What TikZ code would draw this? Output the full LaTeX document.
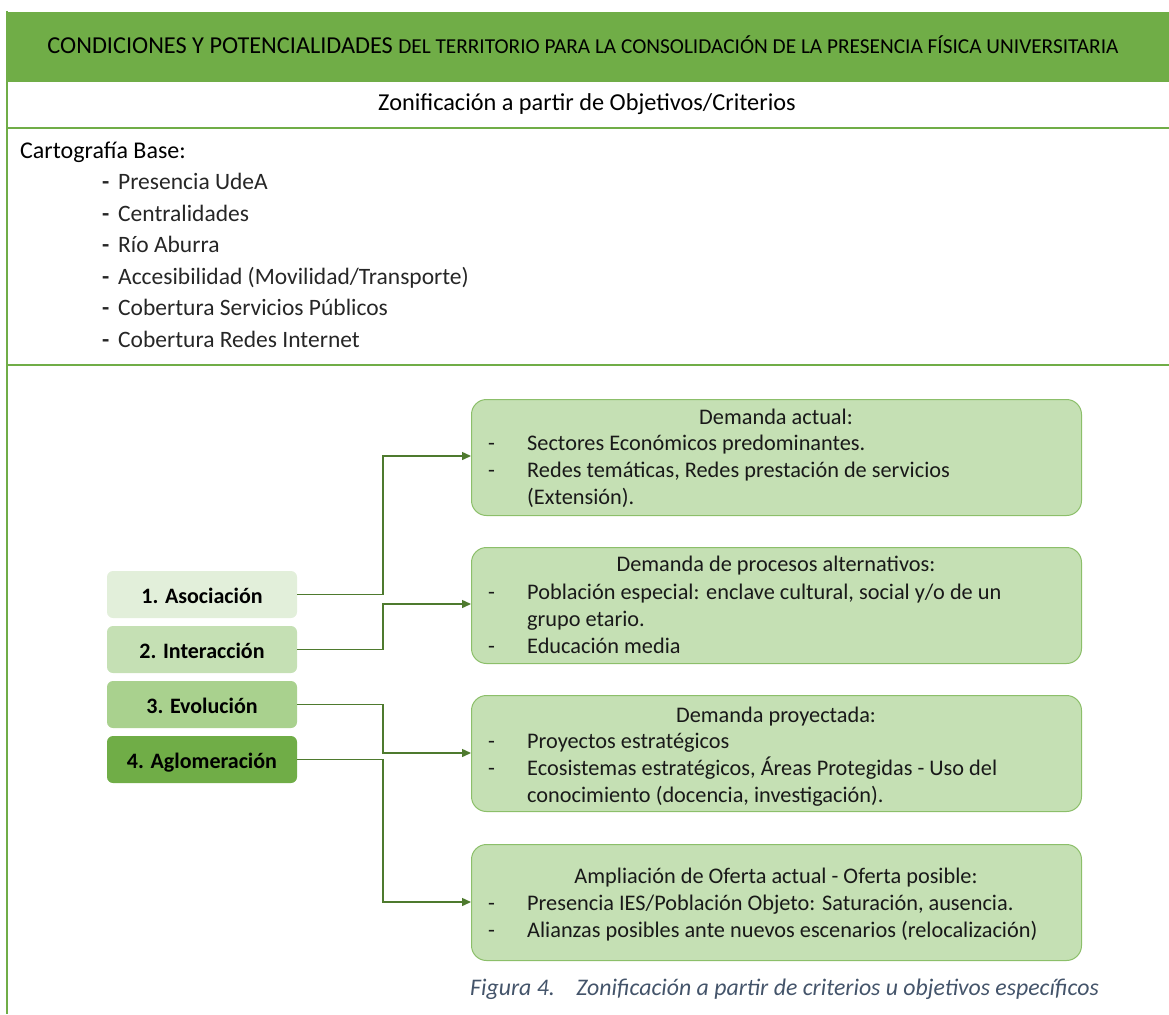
\documentclass[tikz,border=0pt]{standalone}
\usepackage{fontspec}
\setmainfont{Carlito}
\usetikzlibrary{arrows.meta}
\definecolor{hdr}{HTML}{70AD47}
\definecolor{c1}{HTML}{E2EFDA}
\definecolor{c2}{HTML}{C5E0B4}
\definecolor{c3}{HTML}{A9D18E}
\definecolor{c4}{HTML}{70AD47}
\definecolor{rfill}{HTML}{C5E0B4}
\definecolor{rline}{HTML}{8CBF6A}
\definecolor{conn}{HTML}{4E7A2E}
\definecolor{capc}{HTML}{44546A}
\tikzset{
  lbox/.style={rounded corners=6pt, minimum width=190pt, minimum height=47pt, inner sep=0pt, text height=18.7pt, text depth=1.7pt, font=\fontsize{22}{26}\selectfont\bfseries, text=black},
  rbox/.style={draw=rline, line width=1pt, fill=rfill, rounded corners=15pt, minimum width=610pt, minimum height=116pt, inner sep=0pt, anchor=north west},
  rtxt/.style={font=\fontsize{22.3}{26}\selectfont, text=black!90, inner sep=0pt, anchor=base west},
  rttl/.style={font=\fontsize{22.3}{26}\selectfont, text=black!90, inner sep=0pt, anchor=base},
  itm/.style={font=\fontsize{23.5}{28}\selectfont, text=black!85, inner sep=0pt, anchor=base west},
  conn/.style={draw=conn, line width=1.4pt, -{Triangle[length=9pt,width=8pt]}},
  sep/.style={draw=hdr, line width=2pt}
}
\begin{document}
\begin{tikzpicture}[x=1pt,y=-1pt]
\useasboundingbox (0,0) rectangle (1169,1014);
% header
\fill[hdr] (7,12) rectangle (1169,82);
\draw[sep] (7,11) -- (7,1014);
\draw[sep] (7,128) -- (1169,128);
\draw[sep, line width=1.5pt] (7,365) -- (1169,365);
\node[inner sep=0pt, anchor=base] (title) at (583,53.5) {\fontsize{24.3}{28}\selectfont CONDICIONES Y POTENCIALIDADES {\fontsize{21.3}{24}\selectfont DEL TERRITORIO PARA LA CONSOLIDACIÓN DE LA PRESENCIA FÍSICA UNIVERSITARIA}};
\node[inner sep=0pt, anchor=base, font=\fontsize{24.3}{28}\selectfont] (sub) at (587,110.5) {Zonificación a partir de Objetivos/Criterios};
% cartografia
\node[inner sep=0pt, anchor=base west, font=\fontsize{24}{28}\selectfont] (cb) at (20,158.5) {Cartografía Base:};
\foreach \t [count=\i] in {Presencia UdeA, Centralidades, Río Aburra, Accesibilidad (Movilidad/Transporte), Cobertura Servicios Públicos, Cobertura Redes Internet}{
  \node[itm, font=\fontsize{23.5}{28}\selectfont\bfseries] (d\i) at (102,{189.5+(\i-1)*31.6}) {-};
  \node[itm] (it\i) at (118,{189.5+(\i-1)*31.6}) {\t};
}
% left boxes
\node[lbox, fill=c1] (b1) at (202,594.5) {1. Asociación};
\node[lbox, fill=c2] (b2) at (202,649.5) {2. Interacción};
\node[lbox, fill=c3] (b3) at (202,704.5) {3. Evolución};
\node[lbox, fill=c4] (b4) at (202,759.5) {4. Aglomeración};
% right boxes
\node[rbox] (rA) at (471,399) {};
\node[rbox] (rB) at (471,547) {};
\node[rbox] (rC) at (471,695) {};
\node[rbox] (rD) at (471,844) {};
% texts A
\node[rttl] (tA) at (776,424) {Demanda actual:};
\node[rtxt] (dA1) at (488,450.5) {-};
\node[rtxt] (A1) at (527,450.5) {Sectores Económicos predominantes.};
\node[rtxt] (dA2) at (488,477.5) {-};
\node[rtxt] (A2) at (527,477.5) {Redes temáticas, Redes prestación de servicios};
\node[rtxt] (A3) at (527,504.5) {(Extensión).};
% texts B
\node[rttl] (tB) at (776,571.5) {Demanda de procesos alternativos:};
\node[rtxt] (dB1) at (488,599.5) {-};
\node[rtxt] (B1) at (527,599.5) {Población especial: enclave cultural, social y/o de un};
\node[rtxt] (B2) at (527,626.5) {grupo etario.};
\node[rtxt] (dB2) at (488,653.5) {-};
\node[rtxt] (B3) at (527,653.5) {Educación media};
% texts C
\node[rttl] (tC) at (776,722.5) {Demanda proyectada:};
\node[rtxt] (dC1) at (488,748.5) {-};
\node[rtxt] (C1) at (527,748.5) {Proyectos estratégicos};
\node[rtxt] (dC2) at (488,775.5) {-};
\node[rtxt] (C2) at (527,775.5) {Ecosistemas estratégicos, Áreas Protegidas - Uso del};
\node[rtxt] (C3) at (527,802.5) {conocimiento (docencia, investigación).};
% texts D
\node[rttl] (tD) at (776,883.5) {Ampliación de Oferta actual - Oferta posible:};
\node[rtxt] (dD1) at (488,910.5) {-};
\node[rtxt] (D1) at (527,910.5) {Presencia IES/Población Objeto: Saturación, ausencia.};
\node[rtxt] (dD2) at (488,937) {-};
\node[rtxt] (D2) at (527,937) {Alianzas posibles ante nuevos escenarios (relocalización)};
% connectors
\draw[conn] (b1.east) -| (383,456) -- (rA.west |- 0,456);
\draw[conn] (b2.east) -| (383,604) -- (rB.west |- 0,604);
\draw[conn] (b3.east) -| (383,753) -- (rC.west |- 0,753);
\draw[conn] (b4.east) -| (383,902) -- (rD.west |- 0,902);
% caption
\node[inner sep=0pt, anchor=base west, text=capc, font=\fontsize{23.8}{28}\selectfont\itshape] (cap) at (470,995) {Figura 4.\hspace{0.9em}Zonificación a partir de criterios u objetivos específicos};
\end{tikzpicture}
\end{document}
